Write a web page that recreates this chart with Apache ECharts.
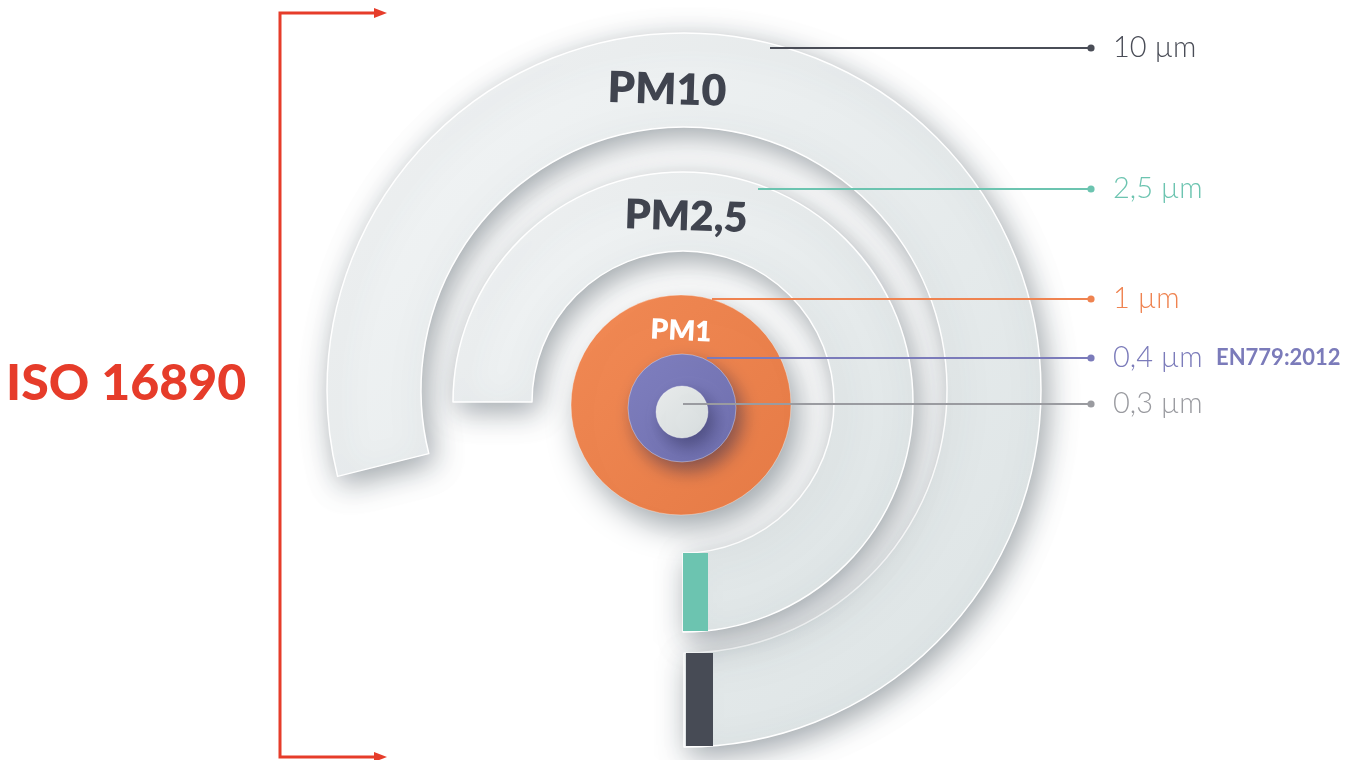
<!DOCTYPE html>
<html><head><meta charset="utf-8">
<script src="https://cdn.jsdelivr.net/npm/echarts@6/dist/echarts.min.js"></script>
<style>html,body{margin:0;padding:0;background:#fff}#c{width:1371px;height:760px}</style>
</head><body><div id="c"></div>
<script>
// ---------------- data ----------------
const sizeLabels    = ['10 µm', '2,5 µm', '1 µm', '0,4 µm', '0,3 µm'];
const sizesMicron   = [10, 2.5, 1, 0.4, 0.3];
const classNames    = ['PM10', 'PM2,5', 'PM1', '', ''];
const standardNotes = ['', '', '', 'EN779:2012', ''];
const standardTitle = 'ISO 16890';

// ---------------- layout / style ----------------
const ringStyle = [
  { cx: 684, cy: 390, r0: 263, r: 357, sweep: 284, capW: 27, capDx: 2, capColor: '#474b55' },
  { cx: 683, cy: 402, r0: 151, r: 230, sweep: 270, capW: 25, capDx: 0, capColor: '#6cc4b0' },
  { cx: 681, cy: 405, r0: 0,   r: 110, sweep: 360, color: ['#f28a55', '#e57a45'] },
  { cx: 682, cy: 408, r0: 0,   r: 54,  sweep: 360, color: ['#8080c0', '#6f6fae'] },
  { cx: 682, cy: 412, r0: 0,   r: 26,  sweep: 360, color: ['#e9ecec', '#d6dcdd'] }
];
const textColors = ['#4a4d57', '#6cc4b0', '#ef8350', '#7b7bba', '#9a9ba0'];
const leaderAnchor = [[770, 48], [758, 189], [712, 299], [707, 358], [683, 404]];
const leaderEndX = 1091, labelX = 1113, noteX = 1216;
const classLabelPos = [[667, 90], [686, 217], [681, 331]];
const classLabelStyle = [
  { size: 43, color: '#40444f', rot: -0.03 },
  { size: 41, color: '#40444f', rot: -0.03 },
  { size: 28, color: '#ffffff', rot: -0.05 }
];

const ringFill = {
  type: 'linear', x: 0, y: 0, x2: 1, y2: 1,
  colorStops: [{ offset: 0, color: '#f3f5f6' }, { offset: 1, color: '#dce3e4' }]
};
const shadow = { shadowBlur: 30, shadowColor: 'rgba(60,75,85,0.5)', shadowOffsetX: 5, shadowOffsetY: 8 };

const pieSeries = sizesMicron.map((v, i) => {
  const s = ringStyle[i];
  let data;
  if (s.sweep < 360) {
    data = [
      { name: sizeLabels[i], value: s.sweep, itemStyle: Object.assign({ color: ringFill, borderColor: '#ffffff', borderWidth: 1.5 }, shadow) },
      { name: 'gap', value: 360 - s.sweep, itemStyle: { color: 'rgba(0,0,0,0)' } }
    ];
  } else {
    data = [{ name: sizeLabels[i], value: v, itemStyle: Object.assign({
      color: { type: 'linear', x: 0, y: 0, x2: 1, y2: 1,
        colorStops: [{ offset: 0, color: s.color[0] }, { offset: 1, color: s.color[1] }] },
      borderColor: 'rgba(255,255,255,0.35)', borderWidth: 1
    }, shadow, i === 2 ? { shadowBlur: 32, shadowOffsetX: 8, shadowOffsetY: 12 } : { shadowBlur: 18, shadowColor: 'rgba(40,40,80,0.5)', shadowOffsetX: 6, shadowOffsetY: 9 }) }];
  }
  return {
    type: 'pie', silent: true, animation: false, z: 1 + i,
    center: [s.cx, s.cy], radius: [s.r0, s.r],
    startAngle: 270, clockwise: false,
    label: { show: false }, labelLine: { show: false },
    emphasis: { disabled: true },
    data: data
  };
});

// end caps of the open rings (drawn from ring geometry)
const capSeries = {
  type: 'custom', coordinateSystem: 'none', silent: true, animation: false, z: 8,
  data: ringStyle.map((s, i) => [i]).filter(d => ringStyle[d[0]].capW),
  renderItem: function (params, api) {
    const s = ringStyle[api.value(0)];
    return { type: 'rect', shape: { x: s.cx + s.capDx, y: s.cy + s.r0, width: s.capW, height: s.r - s.r0 - 1 },
      style: { fill: s.capColor } };
  }
};

const leaderSeries = {
  type: 'custom', coordinateSystem: 'none', silent: true, animation: false, z: 20,
  data: sizeLabels.map((l, i) => [i]),
  renderItem: function (params, api) {
    const i = params.dataIndex;
    const a = leaderAnchor[i];
    const c = textColors[i];
    const children = [
      { type: 'line', shape: { x1: a[0], y1: a[1], x2: leaderEndX, y2: a[1] }, style: { stroke: c, lineWidth: 2 } },
      { type: 'circle', shape: { cx: leaderEndX, cy: a[1], r: 3.6 }, style: { fill: c } },
      { type: 'text', x: labelX, y: a[1], style: { text: sizeLabels[i], fill: c, font: '300 29px Lato', align: 'left', verticalAlign: 'middle' } }
    ];
    if (standardNotes[i]) {
      children.push({ type: 'text', x: noteX, y: a[1], style: { text: standardNotes[i], fill: c, font: '700 22px Lato', align: 'left', verticalAlign: 'middle' } });
    }
    return { type: 'group', children: children };
  }
};

const classSeries = {
  type: 'custom', coordinateSystem: 'none', silent: true, animation: false, z: 15,
  data: classNames.map((n, i) => [i]).filter(d => classNames[d[0]]),
  renderItem: function (params, api) {
    const i = api.value(0);
    const p = classLabelPos[i], st = classLabelStyle[i];
    return { type: 'text', x: p[0], y: p[1], rotation: st.rot,
      style: { text: classNames[i], fill: st.color, font: '800 ' + st.size + 'px Lato', align: 'center', verticalAlign: 'middle' } };
  }
};

const red = '#e63c2a';
const chart = echarts.init(document.getElementById('c'), null, { renderer: 'canvas' });
chart.setOption({
  backgroundColor: '#ffffff',
  series: pieSeries.concat([capSeries, classSeries, leaderSeries]),
  graphic: [
    { type: 'polyline', silent: true, shape: { points: [[376, 13], [280, 13], [280, 757], [376, 757]] }, style: { stroke: red, lineWidth: 3, fill: null } },
    { type: 'polygon', silent: true, shape: { points: [[374, 8], [387, 13], [374, 18]] }, style: { fill: red } },
    { type: 'polygon', silent: true, shape: { points: [[374, 752], [387, 757], [374, 762]] }, style: { fill: red } },
    { type: 'text', silent: true, x: 6, y: 384, style: { text: standardTitle, fill: red, font: '900 50px Lato', align: 'left', verticalAlign: 'middle' } }
  ]
});
</script></body></html>
